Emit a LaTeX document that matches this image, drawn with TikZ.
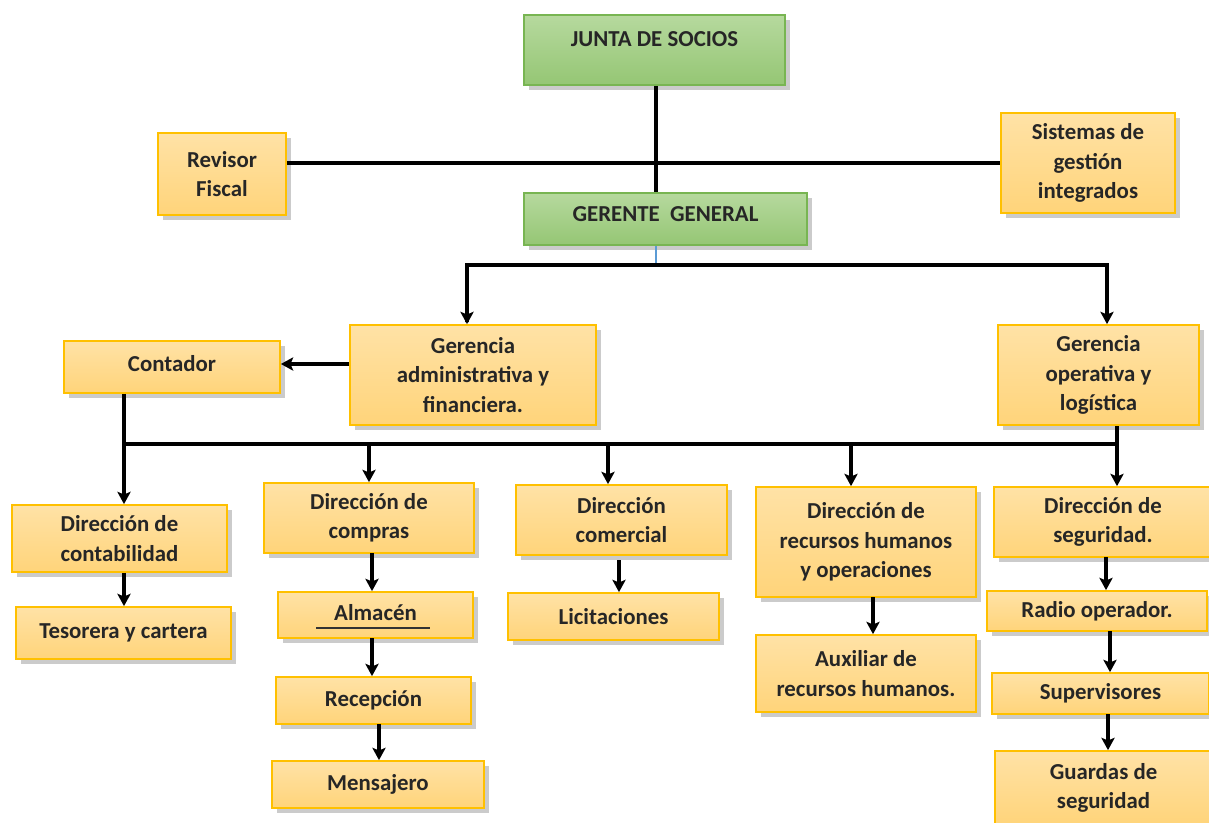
\documentclass[tikz,border=0pt]{standalone}
\usepackage{fontspec}
\setmainfont{Carlito}
\usepackage{tikz}
\usetikzlibrary{arrows.meta,shadows}
\definecolor{boxline}{HTML}{FFC000}
\definecolor{boxtop}{HTML}{FFE2A6}
\definecolor{boxbot}{HTML}{FFD47A}
\definecolor{grline}{HTML}{78B552}
\definecolor{grtop}{HTML}{B6D99E}
\definecolor{grbot}{HTML}{95C674}
\definecolor{blueline}{HTML}{5B9BD5}

\begin{document}
\begin{tikzpicture}[x=0.02cm,y=-0.02cm,
    every node/.style={font=\fontsize{13}{16.7}\selectfont\bfseries, text=black!85, align=center, inner sep=2pt},
    ybox/.style={draw=boxline, line width=1pt, top color=boxtop, bottom color=boxbot,
      drop shadow={shadow xshift=3pt, shadow yshift=-3pt, fill=black!45, opacity=0.45}},
    gbox/.style={draw=grline, line width=1pt, top color=grtop, bottom color=grbot,
      drop shadow={shadow xshift=3pt, shadow yshift=-3pt, fill=black!45, opacity=0.45}},
    conn/.style={line width=1.8pt, black},
    arr/.style={conn, -{Stealth[length=7pt,width=7.5pt,inset=1.5pt]}}]
			\useasboundingbox (0,0) rectangle (1209,822);
			\node[gbox, minimum width=5.22cm, minimum height=1.40cm, text depth=0.45cm] (junta) at (654.5,50) {JUNTA DE SOCIOS};
			\node[gbox, minimum width=5.66cm, minimum height=1.04cm, text depth=0.2cm] (gerente) at (665.5,219) {GERENTE \ GENERAL};
			\node[ybox, minimum width=2.56cm, minimum height=1.64cm] (revisor) at (222,174) {Revisor\\Fiscal};
			\node[ybox, minimum width=3.48cm, minimum height=2.00cm] (sistemas) at (1088,163) {Sistemas de\\gestión\\integrados};
			\node[ybox, minimum width=4.92cm, minimum height=2.00cm] (gadm) at (473,375) {Gerencia\\administrativa y\\financiera.};
			\node[ybox, minimum width=4.02cm, minimum height=2.00cm] (gop) at (1098.5,375) {Gerencia\\operativa y\\logística};
			\node[ybox, minimum width=4.32cm, minimum height=1.04cm, text depth=0.15cm] (contador) at (172,367) {Contador};
			\node[ybox, minimum width=4.30cm, minimum height=1.34cm] (dcont) at (119.5,538.5) {Dirección de\\contabilidad};
			\node[ybox, minimum width=4.30cm, minimum height=1.04cm] (tes) at (123.5,633) {Tesorera y cartera};
			\node[ybox, minimum width=4.20cm, minimum height=1.40cm] (dcomp) at (369,518) {Dirección de\\compras};
			\node[ybox, minimum width=3.90cm, minimum height=0.92cm, text depth=0.12cm] (alm) at (375.5,615) {Almacén};
			\node[ybox, minimum width=3.90cm, minimum height=0.94cm] (rec) at (373.5,700.5) {Recepción};
			\node[ybox, minimum width=4.24cm, minimum height=0.94cm] (mens) at (378,784.5) {Mensajero};
			\node[ybox, minimum width=4.22cm, minimum height=1.40cm] (dcom) at (621.5,520) {Dirección\\comercial};
			\node[ybox, minimum width=4.22cm, minimum height=0.94cm] (lic) at (613.5,616.5) {Licitaciones};
			\node[ybox, minimum width=4.40cm, minimum height=2.20cm] (drh) at (866,542) {Dirección de\\recursos humanos\\y operaciones};
			\node[ybox, minimum width=4.40cm, minimum height=1.54cm] (aux) at (866,673.5) {Auxiliar de\\recursos humanos.};
			\node[ybox, minimum width=4.36cm, minimum height=1.40cm] (dseg) at (1103,522) {Dirección de\\seguridad.};
			\node[ybox, minimum width=4.40cm, minimum height=0.80cm] (radio) at (1097,611) {Radio operador.};
			\node[ybox, minimum width=4.34cm, minimum height=0.82cm] (sup) at (1100.5,693.5) {Supervisores};
			\node[ybox, minimum width=4.34cm, minimum height=1.48cm] (guard) at (1103.5,788) {Guardas de\\seguridad};
			\draw[black!80, line width=0.6pt] (316,628) -- (430,628);
			\coordinate (gg) at (656,265);
			\coordinate (b1) at (124,444);
			\coordinate (b2) at (369,444);
			\coordinate (b3) at (608,444);
			\coordinate (b4) at (851,444);
			\coordinate (b5) at (1117,444);
			\draw[conn] (gg |- junta.south) -- (gg |- gerente.north);
			\draw[conn] (revisor.east |- sistemas.west) -- (sistemas.west);
			\draw[blueline, line width=0.6pt] (gg |- gerente.south) -- (gg);
			\draw[arr] (gg) -| (467,322) coordinate (ga) -- (ga |- gadm.north);
			\draw[arr] (gg) -| (1107,320) coordinate (go) -- (go |- gop.north);
			\draw[arr] (gadm.west |- 0,364) -- (contador.east |- 0,364);
			\draw[conn] (b1 |- contador.south) -- (b1) -- (b5) -- (b5 |- gop.south);
			\draw[arr] (b1) -- (b1 |- dcont.north);
			\draw[arr] (b2) -- (b2 |- dcomp.north);
			\draw[arr] (b3) -- (b3 |- dcom.north);
			\draw[arr] (b4) -- (b4 |- drh.north);
			\draw[arr] (b5) -- (b5 |- dseg.north);
			\draw[arr] (b1 |- dcont.south) -- (b1 |- tes.north);
			\draw[arr] (372,553) coordinate (c1) -- (c1 |- alm.north);
			\draw[arr] (372,638) coordinate (c2) -- (c2 |- rec.north);
			\draw[arr] (379,724) coordinate (c3) -- (c3 |- mens.north);
			\draw[arr] (619,560) coordinate (c4) -- (c4 |- lic.north);
			\draw[arr] (873,597) coordinate (c5) -- (c5 |- aux.north);
			\draw[arr] (1106,557) coordinate (c6) -- (c6 |- radio.north);
			\draw[arr] (1110,631) coordinate (c7) -- (c7 |- sup.north);
			\draw[arr] (1108,714) coordinate (c8) -- (c8 |- guard.north);
		\end{tikzpicture}
\end{document}
